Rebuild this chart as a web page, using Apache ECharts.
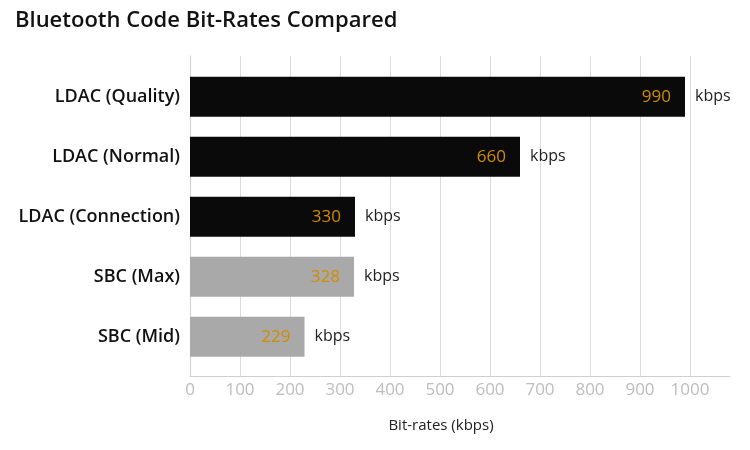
<!DOCTYPE html>
<html>
<head>
<meta charset="utf-8">
<script src="https://cdn.jsdelivr.net/npm/echarts@6/dist/echarts.min.js"></script>
<style>
html,body{margin:0;padding:0;background:#fff;}
#main{width:750px;height:450px;}
</style>
</head>
<body>
<div id="main"></div>
<script>
var categories = ['LDAC (Quality)', 'LDAC (Normal)', 'LDAC (Connection)', 'SBC (Max)', 'SBC (Mid)'];
var bitRates = [990, 660, 330, 328, 229];
var unitLabel = 'kbps';
var xTicks = [0, 100, 200, 300, 400, 500, 600, 700, 800, 900, 1000];

var FONT = '"Open Sans", "Noto Sans", sans-serif';
var chart = echarts.init(document.getElementById('main'));

function barColor(name) {
  return name.indexOf('LDAC') === 0 ? '#0a0a0a' : '#a9a9a9';
}

chart.setOption({
  animation: false,
  textStyle: { fontFamily: FONT },
  title: {
    text: 'Bluetooth Code Bit-Rates Compared',
    left: 10, top: 5,
    textStyle: { fontFamily: FONT, fontSize: 22, fontWeight: 600, color: '#111' }
  },
  grid: [
    { left: 190, right: 20, top: 56, height: 320 },
    { left: 190, right: 20, top: 66.7, height: 300 }
  ],
  xAxis: [
    {
      gridIndex: 0, type: 'value', min: 0, max: 1080, interval: 100,
      axisLine: { show: true, lineStyle: { color: '#cfcfcf' } },
      axisTick: { show: false },
      splitLine: { show: true, showMaxLine: false, lineStyle: { color: '#dcdcdc' } },
      axisLabel: {
        color: '#bdbdbd', fontSize: 17, margin: 6, showMaxLabel: false,
        formatter: function (v) { return xTicks.indexOf(v) >= 0 ? String(v) : ''; }
      },
      name: 'Bit-rates (kbps)', nameLocation: 'middle', nameGap: 42,
      nameTextStyle: { color: '#222', fontSize: 15, fontFamily: FONT, padding: [0, 38, 0, 0] }
    },
    {
      gridIndex: 1, type: 'value', min: 0, max: 1080, show: false
    }
  ],
  yAxis: [
    {
      gridIndex: 0, type: 'category', data: [''],
      axisLine: { show: true, lineStyle: { color: '#cfcfcf' } },
      axisTick: { show: false }, axisLabel: { show: false }, splitLine: { show: false }
    },
    {
      gridIndex: 1, type: 'category', data: categories, inverse: true,
      axisLine: { show: false }, axisTick: { show: false },
      axisLabel: { color: '#111', fontSize: 18, fontWeight: 600, margin: 10, fontFamily: FONT }
    }
  ],
  series: [
    {
      type: 'bar', xAxisIndex: 1, yAxisIndex: 1, barWidth: 40,
      data: bitRates.map(function (v, i) {
        return { value: v, itemStyle: { color: barColor(categories[i]) } };
      }),
      label: {
        show: true, position: 'insideRight', distance: 14,
        color: '#d18d00', fontSize: 17, fontFamily: FONT
      },
      z: 3
    },
    {
      type: 'bar', xAxisIndex: 1, yAxisIndex: 1, barWidth: 40, barGap: '-100%',
      data: bitRates,
      itemStyle: { color: 'rgba(0,0,0,0)' },
      label: {
        show: true, position: 'right', distance: 10,
        formatter: unitLabel, color: '#222', fontSize: 16, fontFamily: FONT
      },
      z: 2
    }
  ]
});
</script>
</body>
</html>
